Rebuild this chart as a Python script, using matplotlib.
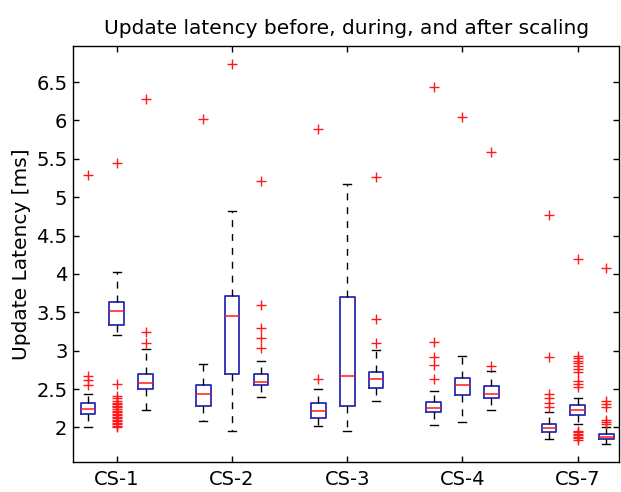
import matplotlib
matplotlib.use("Agg")
import matplotlib.pyplot as plt

plt.rcParams['font.family'] = ['DejaVu Sans']

groups = ["CS-1", "CS-2", "CS-3", "CS-4", "CS-7"]
phases = ["before", "during", "after"]

# per group: [before, during, after]
medians = [[2.235, 3.52, 2.58], [2.44, 3.45, 2.59], [2.22, 2.665, 2.63],
           [2.25, 2.55, 2.44], [1.99, 2.225, 1.88]]
q1s = [[2.17, 3.33, 2.50], [2.28, 2.70, 2.55], [2.125, 2.28, 2.52],
       [2.20, 2.42, 2.38], [1.94, 2.16, 1.85]]
q3s = [[2.32, 3.63, 2.70], [2.55, 3.71, 2.70], [2.32, 3.70, 2.725],
       [2.33, 2.65, 2.535], [2.05, 2.295, 1.92]]
whislo = [[2.00, 3.21, 2.23], [2.09, 1.95, 2.40], [2.02, 1.96, 2.35],
          [2.03, 2.07, 2.23], [1.85, 2.05, 1.78]]
whishi = [[2.43, 4.03, 3.02], [2.83, 4.82, 2.86], [2.50, 5.17, 3.01],
          [2.48, 2.93, 2.74], [2.20, 2.39, 2.01]]
fliers = [
    [[5.29, 2.67, 2.62, 2.55],
     [5.44, 2.57, 2.41, 2.38, 2.35, 2.32, 2.30, 2.28, 2.26, 2.24, 2.22, 2.20,
      2.18, 2.16, 2.14, 2.12, 2.10, 2.08, 2.06, 2.04, 2.02, 2.00],
     [6.28, 3.24, 3.10]],
    [[6.02], [6.73], [5.21, 3.60, 3.30, 3.16, 3.04]],
    [[5.89, 2.63], [], [5.26, 3.41, 3.10]],
    [[6.44, 3.11, 2.92, 2.82, 2.63], [6.05], [5.59, 2.80]],
    [[4.77, 2.92, 2.44, 2.38, 2.32, 2.26],
     [4.19, 2.93, 2.90, 2.87, 2.84, 2.80, 2.76, 2.72, 2.60, 2.56, 2.53,
      1.96, 1.94, 1.92, 1.90, 1.88, 1.86, 1.84],
     [4.08, 2.35, 2.31, 2.27, 2.10, 2.07, 2.04]],
]

offsets = [-0.25, 0.0, 0.25]

fig = plt.figure(figsize=(6.21, 4.92), dpi=100)
ax = fig.add_axes([0.1176, 0.061, 0.8794, 0.8455])

stats = []
positions = []
for g in range(len(groups)):
    for p in range(len(phases)):
        stats.append(dict(med=medians[g][p], q1=q1s[g][p], q3=q3s[g][p],
                          whislo=whislo[g][p], whishi=whishi[g][p],
                          fliers=fliers[g][p], label=""))
        positions.append(g + 1 + offsets[p])

ax.bxp(stats, positions=positions, widths=0.127, showfliers=True,
       boxprops=dict(color='#2b2bb5', linewidth=1.3),
       medianprops=dict(color='#ff1a1a', linewidth=1.1),
       whiskerprops=dict(color='black', linewidth=1.0, linestyle=(0, (5, 5))),
       capprops=dict(color='black', linewidth=1.0),
       capwidths=0.07,
       flierprops=dict(marker='+', markeredgecolor='#ff1a1a', markersize=7,
                       markeredgewidth=1.0, linestyle='none'))

ax.set_xlim(0.62, 5.36)
ax.set_ylim(1.55, 6.97)
ax.set_xticks(range(1, len(groups) + 1))
ax.set_xticklabels(groups)
ax.set_yticks([2, 2.5, 3, 3.5, 4, 4.5, 5, 5.5, 6, 6.5])
ax.set_yticklabels(["2", "2.5", "3", "3.5", "4", "4.5", "5", "5.5", "6", "6.5"])
ax.tick_params(direction='in', length=4, width=1, top=True, right=True,
               labelsize=14, colors='black', pad=4)
ax.tick_params(axis='x', pad=6)
for s in ax.spines.values():
    s.set_linewidth(1.0)
ax.set_ylabel("Update Latency [ms]", fontsize=14.5, labelpad=4)
ax.set_title("Update latency before, during, and after scaling", fontsize=14.5, pad=9)

fig.savefig("out.png", dpi=100)
